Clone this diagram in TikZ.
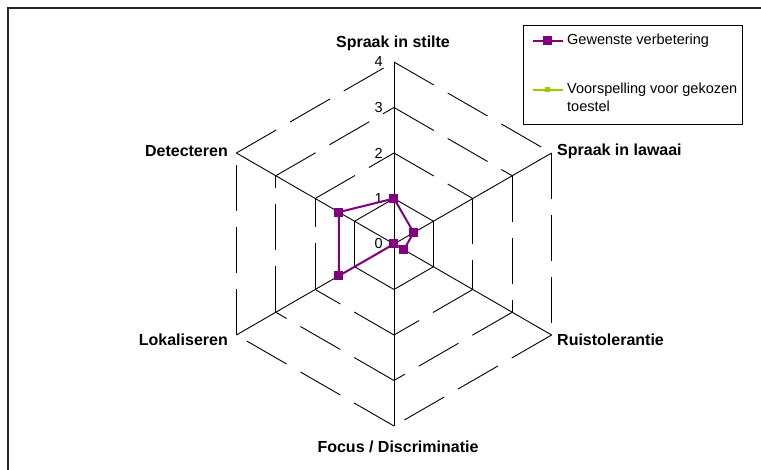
\documentclass[tikz,border=0pt]{standalone}
\usepackage{fontspec}
\setmainfont{Liberation Sans}
\usetikzlibrary{calc}
\definecolor{serieswant}{HTML}{800080}
\definecolor{seriespred}{HTML}{99CC00}
\begin{document}
\begin{tikzpicture}[x=1pt,y=1pt,
  grid/.style={black, line width=0.9pt},
  ring/.style={grid, dash pattern=on 46pt off 16pt},
  axislabel/.style={font=\fontsize{16}{19}\selectfont\bfseries, inner sep=0pt},
  ticklabel/.style={font=\fontsize{14.5}{17}\selectfont, inner sep=0pt, anchor=east},
  legendtext/.style={font=\fontsize{14.5}{18}\selectfont, inner sep=0pt, align=left},
  series/.style={draw=serieswant, line width=2pt, line join=round},
  mk/.style={rectangle, fill=serieswant, minimum size=9pt, inner sep=0pt},
  mkpred/.style={rectangle, fill=seriespred, minimum size=5pt, inner sep=0pt},
  frameline/.style={draw=black!85, line width=1.6pt}
]
\useasboundingbox (-394,-226) rectangle (367,244);

% chart frame (only the top and left borders fall inside the page)
\draw[frameline] (-386,-240) -- (-386,236) -- (380,236);

% concentric hexagonal rings, each side dashed from its own start
\foreach \L in {1,...,4}
  \foreach \k in {0,...,5}
    \draw[ring] ({90-60*\k}:{45.5*\L}) -- ({30-60*\k}:{45.5*\L});

% spokes
\coordinate (c) at (0,0);
\foreach \k in {0,...,5}
  \draw[grid] (c) -- ({90-60*\k}:182) coordinate (v\k);

% scale labels
\foreach \L in {0,...,4}
  \node[ticklabel] (t\L) at (-11,{45.5*\L}) {\L};

% axis labels
\node[axislabel] (a0) at (-1,201) {Spraak in stilte};
\node[axislabel, anchor=west] (a1) at (163,93) {Spraak in lawaai};
\node[axislabel, anchor=west] (a2) at (163,-96) {Ruistolerantie};
\node[axislabel] (a3) at (4,-203) {Focus / Discriminatie};
\node[axislabel, anchor=east] (a4) at (-166,-96) {Lokaliseren};
\node[axislabel, anchor=east] (a5) at (-166,93) {Detecteren};

% data series: gewenste verbetering
\foreach \k/\v in {0/1,1/0.5,2/0.25,3/0,4/1.4,5/1.4}
  \coordinate (p\k) at ({90-60*\k}:{45.5*\v});
\draw[series] (p0) -- (p1) -- (p2) -- (p3) -- (p4) -- (p5) -- cycle;
\foreach \k in {0,...,5}
  \node[mk] (m\k) at (p\k) {};

% legend
\node[draw, line width=0.9pt, minimum width=219pt, minimum height=99pt,
      inner sep=0pt, anchor=north west] (legend) at (129,219) {};
\coordinate (la) at (139,203);
\coordinate (lb) at (169,203);
\draw[series] (la) -- (lb);
\node[mk] (lm1) at ($(la)!0.5!(lb)$) {};
\node[legendtext, anchor=west] (lt1) at (173,203) {Gewenste verbetering};
\coordinate (lc) at (139,154);
\coordinate (ld) at (169,154);
\draw[draw=seriespred, line width=2pt] (lc) -- (ld);
\node[mkpred] (lm2) at ($(lc)!0.5!(ld)$) {};
\node[legendtext, anchor=north west] (lt2) at (173,161) {Voorspelling voor gekozen\\toestel};
\end{tikzpicture}
\end{document}
